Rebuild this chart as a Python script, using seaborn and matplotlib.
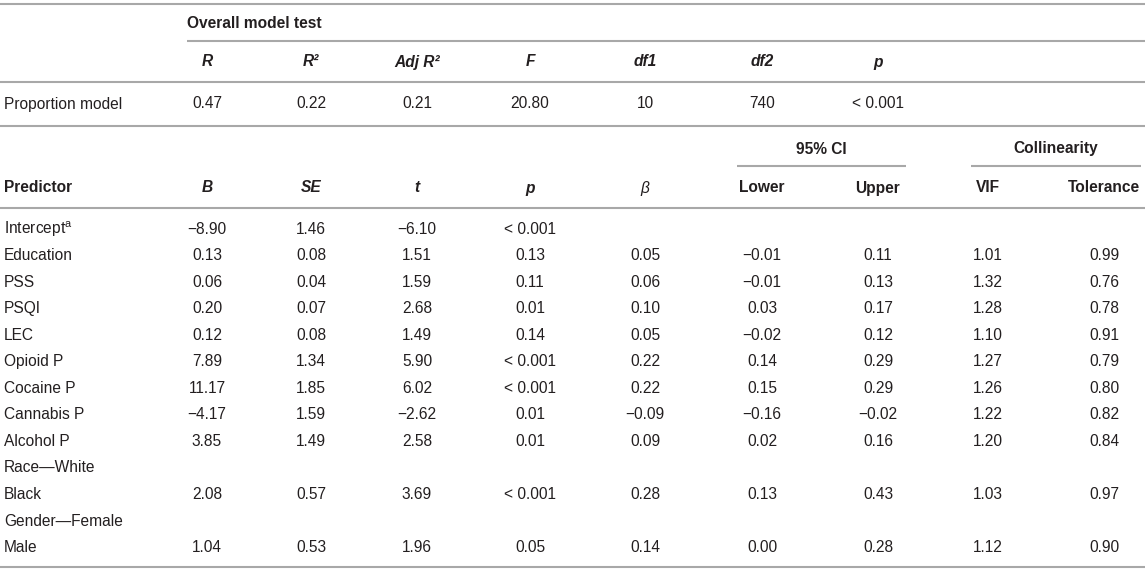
import numpy as np
import matplotlib
matplotlib.use("Agg")
import matplotlib.pyplot as plt
import seaborn as sns

# ---------------- data ----------------
overall_headers = ["R", "R²", "Adj R²", "F", "df1", "df2", "p"]
overall_label = "Proportion model"
overall_values = ["0.47", "0.22", "0.21", "20.80", "10", "740", "< 0.001"]

predictors = ["Intercept", "Education", "PSS", "PSQI", "LEC", "Opioid P",
              "Cocaine P", "Cannabis P", "Alcohol P", "Race—White", "Black",
              "Gender—Female", "Male"]
B = [-8.90, 0.13, 0.06, 0.20, 0.12, 7.89, 11.17, -4.17, 3.85, np.nan, 2.08, np.nan, 1.04]
SE = [1.46, 0.08, 0.04, 0.07, 0.08, 1.34, 1.85, 1.59, 1.49, np.nan, 0.57, np.nan, 0.53]
t_vals = [-6.10, 1.51, 1.59, 2.68, 1.49, 5.90, 6.02, -2.62, 2.58, np.nan, 3.69, np.nan, 1.96]
p_vals = ["< 0.001", "0.13", "0.11", "0.01", "0.14", "< 0.001", "< 0.001", "0.01",
          "0.01", "", "< 0.001", "", "0.05"]
beta = [np.nan, 0.05, 0.06, 0.10, 0.05, 0.22, 0.22, -0.09, 0.09, np.nan, 0.28, np.nan, 0.14]
lower = [np.nan, -0.01, -0.01, 0.03, -0.02, 0.14, 0.15, -0.16, 0.02, np.nan, 0.13, np.nan, 0.00]
upper = [np.nan, 0.11, 0.13, 0.17, 0.12, 0.29, 0.29, -0.02, 0.16, np.nan, 0.43, np.nan, 0.28]
vif = [np.nan, 1.01, 1.32, 1.28, 1.10, 1.27, 1.26, 1.22, 1.20, np.nan, 1.03, np.nan, 1.12]
tolerance = [np.nan, 0.99, 0.76, 0.78, 0.91, 0.79, 0.80, 0.82, 0.84, np.nan, 0.97, np.nan, 0.90]

pred_headers = ["B", "SE", "t", "p", "β", "Lower", "Upper", "VIF", "Tolerance"]

# ---------------- layout ----------------
W, H = 1145, 573
col_x = [207, 311, 417, 530, 645, 762, 878, 988, 1104]
TXT = "#231f20"
LINE = "#a8a8a8"
FS = 11.2

sns.set_theme(style="white")
plt.rcParams["font.family"] = ["Liberation Sans", "DejaVu Sans"]
plt.rcParams["mathtext.fontset"] = "custom"
plt.rcParams["mathtext.rm"] = "Liberation Sans"

fig = plt.figure(figsize=(W / 100, H / 100), dpi=100)
ax = fig.add_axes([0, 0, 1, 1])
ax.set_xlim(0, W)
ax.set_ylim(H, 0)
ax.axis("off")


def fmt(v):
    if v is None or (isinstance(v, float) and np.isnan(v)):
        return ""
    return f"{v:.2f}".replace("-", "−")


def hline(y, x0=0, x1=W):
    ax.plot([x0, x1], [y, y], color=LINE, lw=1.5, solid_capstyle="butt")


def txt(x, y, s, ha="center", **kw):
    ax.text(x, y, s, ha=ha, va="center", color=TXT, fontsize=FS, **kw)


# lines
hline(4)
hline(41, 187, W)
hline(82)
hline(126)
hline(166, 737, 906)
hline(166, 971, 1141)
hline(208)
hline(567)

# overall section
txt(187, 23, "Overall model test", ha="left", fontweight="bold")
for x, h in zip(col_x, overall_headers):
    txt(x, 62, h, fontweight="bold", fontstyle="italic")
txt(4, 104, overall_label, ha="left")
for x, v in zip(col_x, overall_values):
    txt(x, 104, v)

# group headers
txt(821, 149, "95% CI", fontweight="bold")
txt(1056, 149, "Collinearity", fontweight="bold")

# predictor header row
txt(4, 188, "Predictor", ha="left", fontweight="bold")
for i, (x, h) in enumerate(zip(col_x, pred_headers)):
    if i < 4:
        txt(x, 188, h, fontweight="bold", fontstyle="italic")
    elif i == 4:
        txt(x, 188, h, fontstyle="italic")
    else:
        txt(x, 188, h, fontweight="bold")

# body rows
row_y0, row_dy = 229, 26.55
for r, name in enumerate(predictors):
    y = row_y0 + r * row_dy
    if r == 0:
        txt(4, y, name + r"$^{\mathrm{a}}$", ha="left")
    else:
        txt(4, y, name, ha="left")
    cells = [fmt(B[r]), fmt(SE[r]), fmt(t_vals[r]), p_vals[r], fmt(beta[r]),
             fmt(lower[r]), fmt(upper[r]), fmt(vif[r]), fmt(tolerance[r])]
    for x, c in zip(col_x, cells):
        if c:
            txt(x, y, c)

fig.savefig("out.png", dpi=100, facecolor="white")
